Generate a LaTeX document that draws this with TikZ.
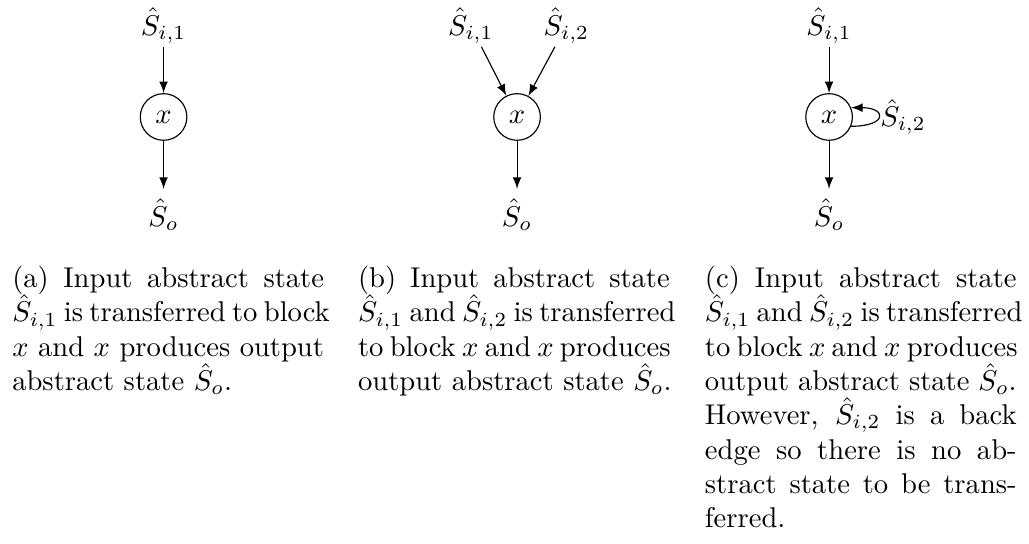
\documentclass[tikz,border=0pt]{standalone}
\usetikzlibrary{positioning,arrows.meta}
\newlength{\capw}
\setlength{\capw}{109pt}
\newcommand{\jl}[1]{\makebox[\capw][s]{#1}}
\begin{document}
\begin{tikzpicture}[
  >=latex,
  blk/.style={circle,draw,minimum size=16.3pt,inner sep=0pt},
  toplbl/.style={inner sep=1pt},
  botlbl/.style={inner sep=3.33pt},
  captext/.style={anchor=north west,inner sep=0pt,align=left},
  every path/.style={line width=0.4pt}
]
\useasboundingbox (0,0) rectangle (359.8pt,-190.2pt);
% (a)
\node[blk] (ax) at (57.2pt,-40.9pt) {$x$};
\node[toplbl,above=16.2pt of ax] (ai) {$\hat{S}_{i,1}$};
\node[botlbl,below=16.8pt of ax] (ao) {$\hat{S}_{o}$};
\draw[->] (ai) -- (ax);
\draw[->] (ax) -- (ao);
% (b)
\node[blk] (bx) at (180.8pt,-40.9pt) {$x$};
\node[toplbl,above=16.2pt of bx,xshift=-16.2pt] (bi1) {$\hat{S}_{i,1}$};
\node[toplbl,above=16.2pt of bx,xshift=17.2pt] (bi2) {$\hat{S}_{i,2}$};
\node[botlbl,below=16.8pt of bx] (bo) {$\hat{S}_{o}$};
\draw[->] (bi1) -- (bx);
\draw[->] (bi2) -- (bx);
\draw[->] (bx) -- (bo);
% (c)
\node[blk] (cx) at (289.9pt,-40.9pt) {$x$};
\node[toplbl,above=16.2pt of cx] (ci) {$\hat{S}_{i,1}$};
\node[botlbl,below=16.8pt of cx] (co) {$\hat{S}_{o}$};
\draw[->] (ci) -- (cx);
\draw[->] (cx) -- (co);
\draw[->] (cx.-23) to[out=0,in=0,looseness=5] node[right,inner sep=0.5pt,pos=0.5] (ci2) {$\hat{S}_{i,2}$} (cx.23);
% captions
\node[captext] (capa) at (4.1pt,-92.8pt) {\jl{(a) Input abstract state}\\
\jl{$\hat{S}_{i,1}$ is transferred to block}\\
\jl{$x$ and $x$ produces output}\\
abstract state $\hat{S}_o$.};
\node[captext] (capb) at (125pt,-92.8pt) {\jl{(b) Input abstract state}\\
\jl{$\hat{S}_{i,1}$ and $\hat{S}_{i,2}$ is transferred}\\
\jl{to block $x$ and $x$ produces}\\
output abstract state $\hat{S}_o$.};
\node[captext] (capc) at (246.3pt,-92.8pt) {\jl{(c) Input abstract state}\\
\jl{$\hat{S}_{i,1}$ and $\hat{S}_{i,2}$ is transferred}\\
\jl{to block $x$ and $x$ produces}\\
\jl{output abstract state $\hat{S}_o$.}\\
\jl{However, $\hat{S}_{i,2}$ is a back}\\
\jl{edge so there is no ab-}\\
\jl{stract state to be trans-}\\
ferred.};
\end{tikzpicture}
\end{document}
